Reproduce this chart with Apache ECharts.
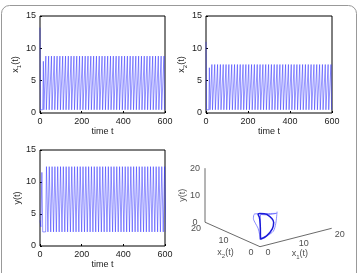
<!DOCTYPE html>
<html>
<head>
<meta charset="utf-8">
<script src="https://cdn.jsdelivr.net/npm/echarts@6/dist/echarts.min.js"></script>
<style>
  html, body { margin: 0; padding: 0; background: #fff; }
  #chart { width: 360px; height: 273px; }
</style>
</head>
<body>
<div id="chart"></div>
<script>
// spike times
var peakTimes = [16, 28, 41.5, 55, 68.5, 82, 95.5, 109, 122.5, 136, 149.5, 163, 176.5, 190,
  203.5, 217, 230.5, 244, 257.5, 271, 284.5, 298, 311.5, 325, 338.5, 352, 365.5, 379,
  392.5, 406, 419.5, 433, 446.5, 460, 473.5, 487, 500.5, 514, 527.5, 541, 554.5, 568, 581.5, 595];
// [start, trough, first peak, regular peak]
var x1Levels = [13.2, 0.5, 8.0, 8.8];
var x2Levels = [11.0, 0.5, 7.0, 7.5];
var yLevels = [4.0, 2.2, 11.5, 12.4];

// phase portrait: limit cycle and transient
var orbitX1 = [0.5, 3, 6.5, 8.8, 6.5, 3, 1, 0.6, 0.5, 0.5, 0.5];
var orbitX2 = [0.5, 1.5, 4, 6.5, 6, 4, 2, 1, 0.6, 0.5, 0.5];
var orbitY = [2.3, 2.3, 2.6, 3, 7, 9.5, 10.8, 10.2, 8, 5, 2.3];
var tranX1 = [13.2, 9, 6, 3, 1, 0.5, 0.5, 0.5, 0.6, 2.5, 6.5, 5, 3.5, 2, 1, 0.6, 0.5, 0.5];
var tranX2 = [11, 6, 3, 1.5, 0.8, 0.5, 0.5, 0.5, 0.5, 1, 2.5, 4.5, 6.5, 5, 3, 1.5, 0.8, 0.5];
var tranY = [3.5, 2.8, 2.3, 2.3, 2.6, 4, 7, 10, 11.5, 10.5, 9, 8.5, 8, 7.5, 7, 6, 4, 2.3];
var ticks3d = [0, 10, 20];

var FONT = 'Liberation Sans, Arial, sans-serif';
var BLUE = '#2a2aff';

function spikeSeries(lv, before, after, start) {
  var d = [[0, lv[0]]];
  d.push(start);
  peakTimes.forEach(function (p, i) {
    d.push([p - before, lv[1]]);
    d.push([p, i === 0 ? lv[2] : lv[3]]);
    d.push([p + after, lv[1]]);
  });
  return d;
}
var x1Data = spikeSeries(x1Levels, 3, 2.5, [2, x1Levels[1]]);
var x2Data = spikeSeries(x2Levels, 2.5, 3, [2.5, x2Levels[1]]);
var yData = [[0, yLevels[0]], [4, 3], [9, yLevels[2]], [13, yLevels[1]]];
peakTimes.slice(1).forEach(function (p) {
  yData.push([p - 1, yLevels[1]]);
  yData.push([p + 3, yLevels[3]]);
  yData.push([p + 10, yLevels[1]]);
});

// oblique projection of (x1, x2, y) onto the flat panel
var e1 = [3.585, 0.92], e2 = [-2.75, 1.225], e3 = 2.7;
function proj(a, b, c) {
  return [a * e1[0] + b * e2[0], a * e1[1] + b * e2[1] + c * e3];
}
function path(xs, ys, zs) {
  return xs.map(function (v, i) { return proj(v, ys[i], zs[i]); });
}

var sub = { fontSize: 6, fontFamily: FONT, color: '#222', verticalAlign: 'bottom', lineHeight: 14, padding: [6, 0, 0, 0] };
var nrm = { fontSize: 9, fontFamily: FONT, color: '#222', lineHeight: 14 };

function timeGrid(i) {
  return {
    gridIndex: i, type: 'value', min: 0, max: 600, interval: 200,
    name: 'time t', nameLocation: 'middle', nameGap: 13,
    nameTextStyle: { fontSize: 9, fontFamily: FONT, color: '#222' },
    axisLine: { show: false }, splitLine: { show: false },
    axisTick: { inside: true, length: 2, lineStyle: { color: '#000' } },
    axisLabel: { fontSize: 9, fontFamily: FONT, color: '#222', margin: 4 }
  };
}
function valGrid(i, name) {
  return {
    gridIndex: i, type: 'value', min: 0, max: 15, interval: 5,
    name: name, nameLocation: 'middle', nameGap: 17, nameRotate: 90,
    nameTextStyle: { fontSize: 9, fontFamily: FONT, color: '#222', rich: { n: nrm, s: sub } },
    axisLine: { show: false }, splitLine: { show: false },
    axisTick: { inside: true, length: 2, lineStyle: { color: '#000' } },
    axisLabel: { fontSize: 9, fontFamily: FONT, color: '#222', margin: 4 }
  };
}

function labelPoints(pts, off, extra) {
  return pts.map(function (p) {
    return {
      value: proj(p[0], p[1], p[2]), name: p[3],
      label: Object.assign({ show: true, position: 'inside', offset: off, formatter: '{b}',
        fontSize: 9, fontFamily: FONT, color: '#222', rich: { n: nrm, s: sub } }, extra || {})
    };
  });
}
var tickPts = [];
ticks3d.forEach(function (t) {
  tickPts = tickPts.concat(labelPoints([[0, 20, t, String(t)]], [-10, 0]));
  tickPts = tickPts.concat(labelPoints([[0, t, 0, String(t)]], [-9, 6]));
  tickPts = tickPts.concat(labelPoints([[t, 0, 0, String(t)]], [8, 6]));
});
tickPts = tickPts.concat(labelPoints([[0, 20, 10, 'y(t)']], [0, -22], { rotate: 90 }));
tickPts = tickPts.concat(labelPoints([[0, 10, 0, '{n|x}{s|2}{n|(t)}']], [-7, 18]));
tickPts = tickPts.concat(labelPoints([[10, 0, 0, '{n|x}{s|1}{n|(t)}']], [4, 16]));

var axis3d = [
  [proj(0, 20, 0), proj(0, 20, 20)],
  [proj(0, 0, 0), proj(0, 20, 0)],
  [proj(0, 0, 0), proj(20, 0, 0)]
];

var option = {
  animation: false,
  backgroundColor: '#fff',
  graphic: [{
    type: 'rect', shape: { x: 1.5, y: 5.5, width: 355, height: 290, r: 8 },
    style: { fill: 'none', stroke: '#999', lineWidth: 1 }, silent: true
  }],
  grid: [
    { left: 40, top: 16, width: 125, height: 97, show: true, borderColor: '#000', borderWidth: 1 },
    { left: 206, top: 16, width: 126, height: 97, show: true, borderColor: '#000', borderWidth: 1 },
    { left: 40, top: 150, width: 125, height: 96, show: true, borderColor: '#000', borderWidth: 1 },
    { left: 180, top: 140, width: 180, height: 133 }
  ],
  xAxis: [timeGrid(0), timeGrid(1), timeGrid(2),
    { gridIndex: 3, type: 'value', min: -80, max: 100, show: false }],
  yAxis: [valGrid(0, '{n|x}{s|1}{n|(t)}'), valGrid(1, '{n|x}{s|2}{n|(t)}'), valGrid(2, 'y(t)'),
    { gridIndex: 3, type: 'value', min: -26.3, max: 106.7, show: false }],
  series: [
    { type: 'line', xAxisIndex: 0, yAxisIndex: 0, data: x1Data, showSymbol: false,
      lineStyle: { color: BLUE, width: 0.5 } },
    { type: 'line', xAxisIndex: 1, yAxisIndex: 1, data: x2Data, showSymbol: false,
      lineStyle: { color: BLUE, width: 0.5 } },
    { type: 'line', xAxisIndex: 2, yAxisIndex: 2, data: yData, showSymbol: false,
      lineStyle: { color: BLUE, width: 0.5 } }
  ].concat(axis3d.map(function (seg) {
    return { type: 'line', xAxisIndex: 3, yAxisIndex: 3, data: seg, showSymbol: false,
      lineStyle: { color: '#444', width: 0.8 } };
  })).concat([
    { type: 'line', xAxisIndex: 3, yAxisIndex: 3, data: path(tranX1, tranX2, tranY),
      showSymbol: false, smooth: 0.3, lineStyle: { color: '#5a5aff', width: 0.7 } },
    { type: 'line', xAxisIndex: 3, yAxisIndex: 3, data: path(orbitX1, orbitX2, orbitY),
      showSymbol: false, smooth: 0.3, lineStyle: { color: '#1a1ad8', width: 1.5 } },
    { type: 'scatter', xAxisIndex: 3, yAxisIndex: 3, symbolSize: 0, data: tickPts, silent: true }
  ])
};

var myChart = echarts.init(document.getElementById('chart'));
myChart.setOption(option);
</script>
</body>
</html>
